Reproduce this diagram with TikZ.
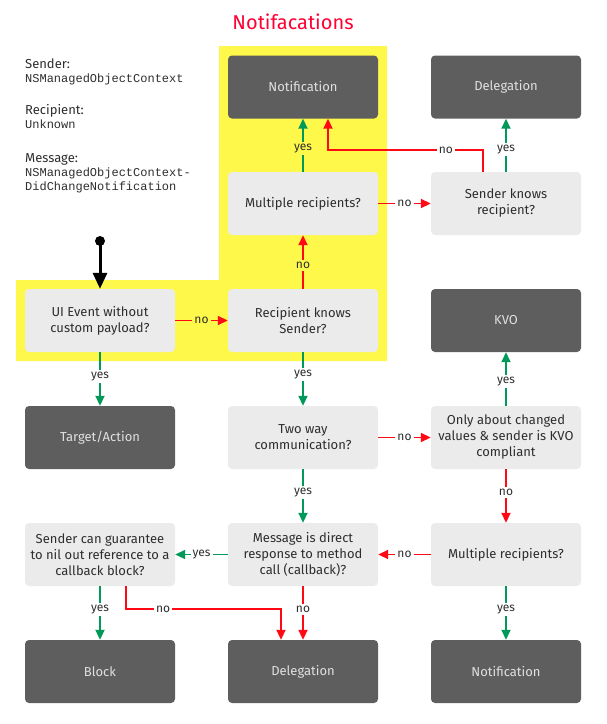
\documentclass[tikz,border=0pt]{standalone}
\usepackage{fontspec}
\setmainfont{Fira Sans}
\newfontfamily\monof{Liberation Mono}
\usetikzlibrary{arrows.meta}
\definecolor{ylw}{HTML}{FDF84A}
\definecolor{darkbox}{HTML}{5E5E5E}
\definecolor{lightbox}{HTML}{EBEBEB}
\definecolor{grn}{HTML}{00995A}
\definecolor{rd}{HTML}{FF0A14}
\definecolor{txt}{HTML}{2E2E2E}
\definecolor{ttl}{HTML}{FF0033}
\tikzset{
  base/.style={minimum width=150pt,minimum height=63pt,rounded corners=4pt,align=center,inner sep=0pt,font=\fontsize{13}{16}\selectfont},
  dbox/.style={base,fill=darkbox,text=white!88!black},
  lbox/.style={base,fill=lightbox,text=txt},
  yesarr/.style={draw=grn,line width=1.8pt,-{Triangle[length=10pt,width=9pt]}},
  noarr/.style={draw=rd,line width=1.8pt,-{Triangle[length=10pt,width=9pt]}},
  lab/.style={font=\fontsize{12}{13}\selectfont,text=txt,inner sep=2pt,fill=white},
  ylab/.style={lab,fill=ylw},
  info/.style={anchor=base west,inner sep=0pt,text=txt},
}
\begin{document}
\begin{tikzpicture}[x=1pt,y=-1pt]
\useasboundingbox (0,0) rectangle (607,724);
\fill[ylw] (219,46) -- (387,46) -- (387,361) -- (16,361) -- (16,280) -- (219,280) -- cycle;
\node[text=ttl,font=\fontsize{20}{24}\selectfont] (title) at (293,22) {Notifacations};

\node[info,font=\fontsize{13}{14}\selectfont] (s1) at (25,68) {Sender:};
\node[info,font=\monof\fontsize{12}{14}\selectfont] (s2) at (25,82) {NSManagedObjectContext};
\node[info,font=\fontsize{13}{14}\selectfont] (r1) at (25,114) {Recipient:};
\node[info,font=\monof\fontsize{12}{14}\selectfont] (r2) at (25,128) {Unknown};
\node[info,font=\fontsize{13}{14}\selectfont] (m1) at (25,162) {Message:};
\node[info,font=\monof\fontsize{12}{14}\selectfont] (m2) at (25,176) {NSManagedObjectContext-};
\node[info,font=\monof\fontsize{12}{14}\selectfont] (m3) at (25,190) {DidChangeNotification};

% row 1
\node[dbox] (notif1) at (303,87) {Notification};
\node[dbox] (deleg1) at (506,87) {Delegation};
% row 2
\node[lbox] (multi1) at (303,203.5) {Multiple recipients?};
\node[lbox] (sendk) at (506,203.5) {Sender knows\\recipient?};
% row 3
\node[lbox] (ui) at (100,320.5) {UI Event without\\custom payload?};
\node[lbox] (recik) at (303,320.5) {Recipient knows\\Sender?};
\node[dbox] (kvo) at (506,320.5) {KVO};
% row 4
\node[dbox] (target) at (100,437.5) {Target/Action};
\node[lbox] (twoway) at (303,437.5) {Two way\\communication?};
\node[lbox] (only) at (506,437.5) {Only about changed\\values \& sender is KVO\\compliant};
% row 5
\node[lbox] (guar) at (100,554.5) {Sender can guarantee\\to nil out reference to a\\callback block?};
\node[lbox] (msg) at (303,554.5) {Message is direct\\response to method\\call (callback)?};
\node[lbox] (multi2) at (506,554.5) {Multiple recipients?};
% row 6
\node[dbox] (block) at (100,671.5) {Block};
\node[dbox] (deleg2) at (303,671.5) {Delegation};
\node[dbox] (notif2) at (506,671.5) {Notification};

% start
\coordinate (start) at (100,241);
\fill[black] (start) circle (5pt);
\draw[black,line width=3pt,-{Triangle[length=16pt,width=14pt]}] (start) -- (ui.north);

% connectors
\draw[noarr] (ui.east) -- node[ylab]{no} (recik.west);
\draw[yesarr] (ui.south) -- node[lab,pos=0.45]{yes} (target.north);
\draw[noarr] (recik.north) -- node[ylab,pos=0.43]{no} (multi1.south);
\draw[yesarr] (multi1.north) -- node[ylab,pos=0.43]{yes} (notif1.south);
\draw[noarr] (multi1.east) -- node[lab]{no} (sendk.west);
\draw[yesarr] (sendk.north) -- node[lab,pos=0.42]{yes} (deleg1.south);
\draw[noarr] ([xshift=-23pt]sendk.north) |- (328,150) node[lab,pos=0.62]{no} -- ([xshift=25pt]notif1.south);
\draw[yesarr] (recik.south) -- node[lab,pos=0.42]{yes} (twoway.north);
\draw[noarr] (twoway.east) -- node[lab]{no} (only.west);
\draw[yesarr] (only.north) -- node[lab,pos=0.46]{yes} (kvo.south);
\draw[noarr] (only.south) -- node[lab,pos=0.44]{no} (multi2.north);
\draw[yesarr] (twoway.south) -- node[lab,pos=0.44]{yes} (msg.north);
\draw[noarr] (multi2.west) -- node[lab]{no} (msg.east);
\draw[yesarr] (msg.west) -- node[lab]{yes} (guar.east);
\draw[yesarr] (multi2.south) -- node[lab,pos=0.44]{yes} (notif2.north);
\draw[noarr] (msg.south) -- node[lab,pos=0.44]{no} (deleg2.north);
\draw[yesarr] (guar.south) -- node[lab,pos=0.44]{yes} (block.north);
\draw[noarr] ([xshift=26pt]guar.south) |- (281,609) node[lab,pos=0.62]{no} -- ([xshift=-22pt]deleg2.north);
\end{tikzpicture}
\end{document}
